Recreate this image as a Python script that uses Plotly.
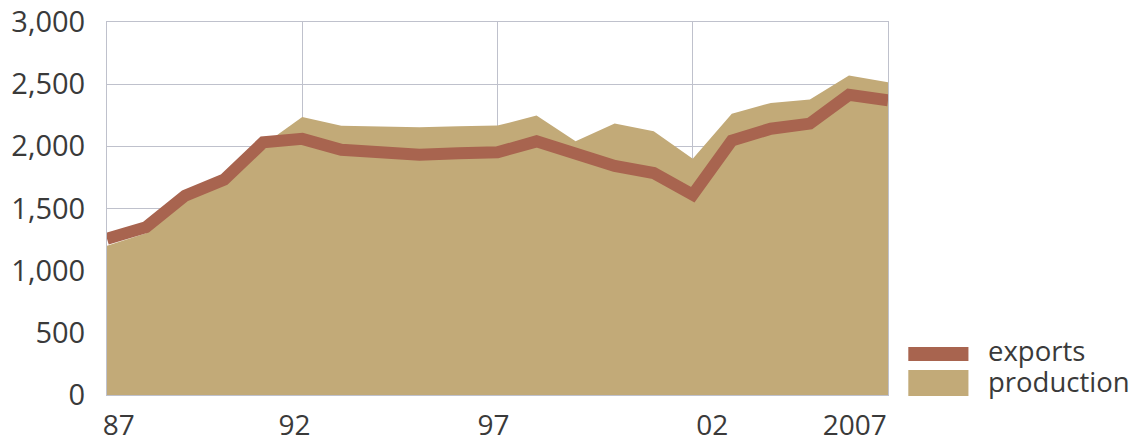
import plotly.graph_objects as go

# Datos (miles de toneladas, aprox.)
years = list(range(1987, 2008))
production = [1200, 1300, 1560, 1700, 2010, 2236, 2166, 2161, 2153, 2161, 2167,
              2247, 2040, 2183, 2121, 1900, 2263, 2349, 2376, 2569, 2515]
exports = [1256, 1350, 1603, 1732, 2032, 2060, 1973, 1949, 1933, 1944, 1952,
           2040, 1946, 1842, 1785, 1611, 2046, 2142, 2183, 2414, 2370]

tick_pos = [1987.3, 1991.8, 1996.9, 2002.5, 2006.15]
tick_text = ["87", "92", "97", "02", "2007"]
grid_years = [1992, 1997, 2002]
y_ticks = [0, 500, 1000, 1500, 2000, 2500, 3000]

COL_PROD = "#c2aa78"
COL_EXP = "#a8644f"
COL_GRID = "#bfc1cc"
TEXT_COLOR = "#3a3a3a"
FONT_FAMILY = "Open Sans, sans-serif"

fig = go.Figure()

fig.add_trace(go.Scatter(
    x=years, y=production,
    mode="lines",
    fill="tozeroy",
    fillcolor=COL_PROD,
    line=dict(width=0, color=COL_PROD),
    name="production",
))

fig.add_trace(go.Scatter(
    x=years, y=exports,
    mode="lines",
    line=dict(width=12, color=COL_EXP),
    name="exports",
))

# Leyenda dibujada a mano (bloques de color + texto)
fig.add_shape(type="rect", xref="paper", yref="paper",
              x0=1.026, x1=1.103, y0=0.091, y1=0.129,
              fillcolor=COL_EXP, line=dict(width=0))
fig.add_shape(type="rect", xref="paper", yref="paper",
              x0=1.026, x1=1.103, y0=-0.003, y1=0.067,
              fillcolor=COL_PROD, line=dict(width=0))
fig.add_annotation(text="exports", xref="paper", yref="paper",
                   x=1.125, y=0.118, xanchor="left", yanchor="middle",
                   showarrow=False, font=dict(size=27.5, color=TEXT_COLOR, family=FONT_FAMILY))
fig.add_annotation(text="production", xref="paper", yref="paper",
                   x=1.125, y=0.036, xanchor="left", yanchor="middle",
                   showarrow=False, font=dict(size=27.5, color=TEXT_COLOR, family=FONT_FAMILY))

fig.update_layout(
    width=1139, height=439,
    margin=dict(l=107, r=251, t=22, b=44),
    paper_bgcolor="white",
    plot_bgcolor="white",
    showlegend=False,
    font=dict(family=FONT_FAMILY, size=29, color=TEXT_COLOR),
    xaxis=dict(
        range=[1987, 2007],
        tickvals=tick_pos, ticktext=tick_text,
        tickfont=dict(size=28),
        showgrid=False, ticks="", zeroline=False, automargin=False,
        showline=True, mirror=True, linecolor=COL_GRID, linewidth=1,
        minor=dict(tickvals=grid_years, showgrid=True, gridcolor=COL_GRID, gridwidth=1, ticks=""),
        ticklabelstandoff=5,
    ),
    yaxis=dict(
        range=[0, 3000],
        tickvals=y_ticks, tickformat=",",
        showgrid=True, gridcolor=COL_GRID, gridwidth=1,
        zeroline=False, ticks="", automargin=False,
        showline=True, mirror=True, linecolor=COL_GRID, linewidth=1,
        ticklabelstandoff=15, ticklabeloverflow="allow",
    ),
)

# quitar el margen por defecto del body para que la figura empiece en (0, 0)
fig.write_html("out.html", config={"displayModeBar": False},
               post_script="document.body.style.margin = '0';")
